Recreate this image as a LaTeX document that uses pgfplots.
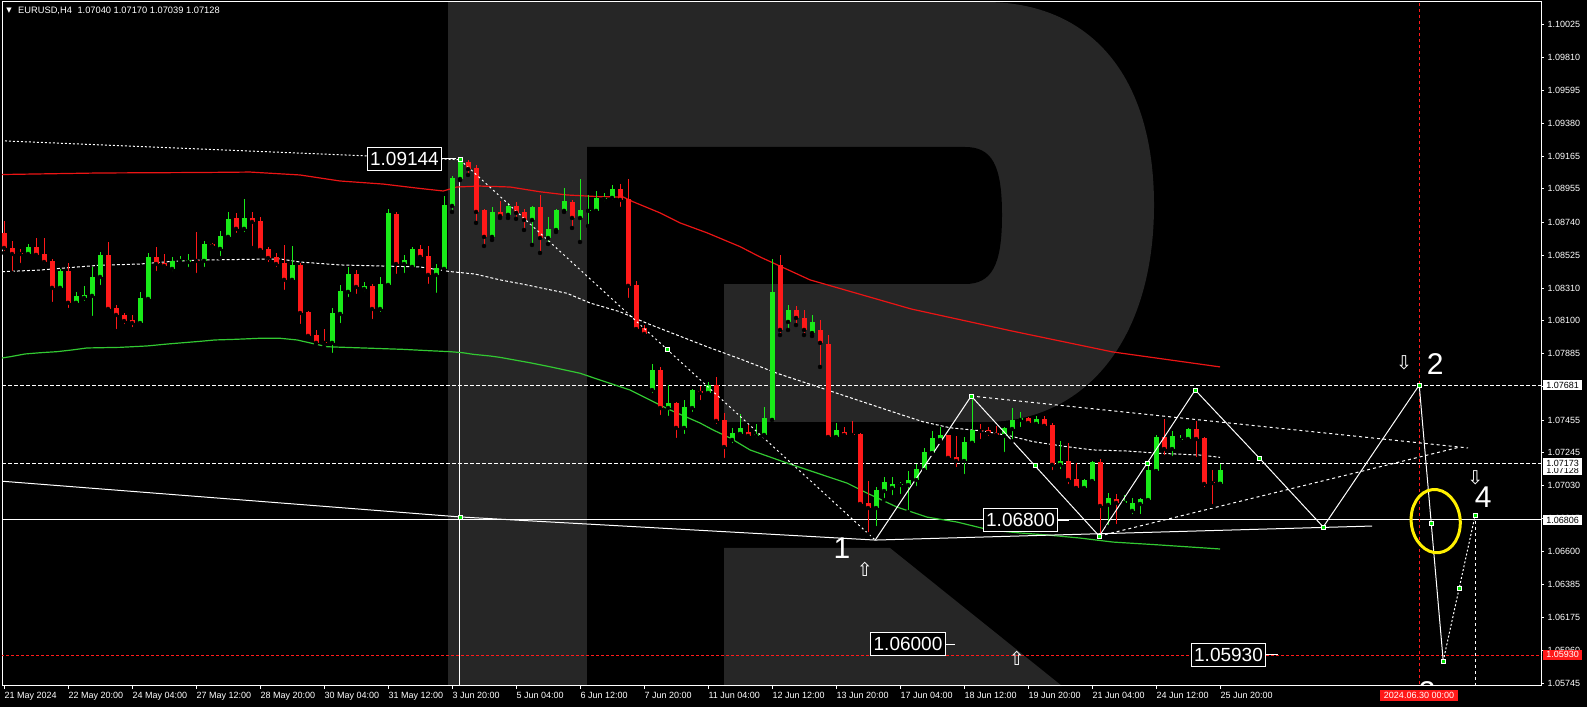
\documentclass[border=0pt]{standalone}
\usepackage{pgfplots}
\pgfplotsset{compat=1.18}
\usepackage{pgfplotstable}
\usepackage{fontspec}
\setmainfont{Liberation Sans}
\newfontfamily\sym{DejaVu Sans}

\definecolor{bull}{RGB}{25,235,25}
\definecolor{bear}{RGB}{255,25,25}
\definecolor{maRed}{RGB}{235,20,20}
\definecolor{maGreen}{RGB}{50,200,50}
\definecolor{wmark}{RGB}{38,38,38}
\definecolor{dot}{RGB}{0,230,0}
\definecolor{ylw}{RGB}{255,240,0}

% EURUSD H4 candles: bar index, open, high, low, close
\pgfplotstableread{
i o h l c
0 1.08669 1.08747 1.08539 1.08571
1 1.08571 1.08617 1.08409 1.08532
2 1.08539 1.08564 1.08461 1.08532
3 1.08532 1.08597 1.08519 1.08577
4 1.08577 1.08636 1.08519 1.08526
5 1.08532 1.08636 1.08454 1.08480
6 1.08487 1.08500 1.08208 1.08312
7 1.08312 1.08435 1.08305 1.08422
8 1.08422 1.08474 1.08169 1.08215
9 1.08215 1.08286 1.08208 1.08260
10 1.08247 1.08325 1.08215 1.08267
11 1.08260 1.08448 1.08117 1.08383
12 1.08383 1.08545 1.08318 1.08526
13 1.08526 1.08610 1.08165 1.08175
14 1.08182 1.08201 1.08032 1.08136
15 1.08136 1.08149 1.08065 1.08097
16 1.08104 1.08136 1.08045 1.08084
17 1.08084 1.08286 1.08058 1.08247
18 1.08240 1.08539 1.08227 1.08513
19 1.08513 1.08577 1.08409 1.08467
20 1.08474 1.08532 1.08428 1.08454
21 1.08435 1.08513 1.08409 1.08487
22 1.08487 1.08519 1.08467 1.08493
23 1.08480 1.08532 1.08435 1.08493
24 1.08493 1.08675 1.08396 1.08487
25 1.08487 1.08617 1.08435 1.08597
26 1.08597 1.08604 1.08558 1.08584
27 1.08565 1.08682 1.08506 1.08649
28 1.08643 1.08805 1.08636 1.08760
29 1.08766 1.08799 1.08656 1.08695
30 1.08695 1.08889 1.08662 1.08766
31 1.08766 1.08805 1.08571 1.08740
32 1.08747 1.08773 1.08545 1.08558
33 1.08565 1.08577 1.08467 1.08506
34 1.08513 1.08539 1.08435 1.08467
35 1.08474 1.08591 1.08286 1.08364
36 1.08364 1.08584 1.08351 1.08461
37 1.08461 1.08474 1.08065 1.08149
38 1.08156 1.08162 1.07993 1.08000
39 1.08006 1.08039 1.07948 1.07955
40 1.07961 1.08045 1.07929 1.07955
41 1.07955 1.08182 1.07877 1.08149
42 1.08143 1.08331 1.08071 1.08292
43 1.08286 1.08448 1.08240 1.08402
44 1.08402 1.08428 1.08260 1.08318
45 1.08305 1.08351 1.08279 1.08325
46 1.08325 1.08338 1.08097 1.08175
47 1.08175 1.08383 1.08143 1.08338
48 1.08331 1.08825 1.08325 1.08799
49 1.08792 1.08805 1.08390 1.08467
50 1.08467 1.08526 1.08396 1.08493
51 1.08448 1.08577 1.08435 1.08565
52 1.08565 1.08591 1.08487 1.08513
53 1.08519 1.08584 1.08325 1.08396
54 1.08396 1.08467 1.08267 1.08441
55 1.08435 1.08909 1.08428 1.08850
56 1.08844 1.09038 1.08805 1.09025
57 1.09019 1.09144 1.09012 1.09129
58 1.09129 1.09142 1.09045 1.09084
59 1.09090 1.09110 1.08734 1.08805
60 1.08818 1.08825 1.08584 1.08643
61 1.08643 1.08838 1.08623 1.08805
62 1.08805 1.08876 1.08766 1.08779
63 1.08786 1.08863 1.08766 1.08844
64 1.08844 1.08870 1.08760 1.08799
65 1.08805 1.08825 1.08688 1.08753
66 1.08753 1.08844 1.08591 1.08838
67 1.08838 1.08915 1.08539 1.08636
68 1.08636 1.08773 1.08597 1.08695
69 1.08688 1.08825 1.08675 1.08818
70 1.08812 1.08960 1.08805 1.08876
71 1.08870 1.08883 1.08701 1.08766
72 1.08766 1.09019 1.08610 1.08818
73 1.08812 1.08915 1.08714 1.08818
74 1.08812 1.08941 1.08805 1.08896
75 1.08889 1.08928 1.08863 1.08896
76 1.08896 1.08980 1.08870 1.08954
77 1.08954 1.08986 1.08825 1.08883
78 1.08889 1.09019 1.08234 1.08325
79 1.08331 1.08357 1.08026 1.08045
80 1.08052 1.08071 1.07987 1.08013
81 1.07649 1.07818 1.07617 1.07779
82 1.07779 1.07798 1.07474 1.07532
83 1.07532 1.07682 1.07468 1.07565
84 1.07565 1.07571 1.07325 1.07403
85 1.07403 1.07584 1.07351 1.07539
86 1.07532 1.07656 1.07494 1.07649
87 1.07643 1.07675 1.07571 1.07630
88 1.07630 1.07701 1.07617 1.07682
89 1.07682 1.07734 1.07416 1.07448
90 1.07455 1.07500 1.07195 1.07279
91 1.07325 1.07403 1.07292 1.07370
92 1.07364 1.07494 1.07357 1.07403
93 1.07377 1.07422 1.07338 1.07351
94 1.07351 1.07429 1.07325 1.07364
95 1.07357 1.07539 1.07351 1.07468
96 1.07455 1.08500 1.07429 1.08286
97 1.08461 1.08526 1.08006 1.08039
98 1.08091 1.08201 1.08039 1.08169
99 1.08169 1.08195 1.08071 1.08117
100 1.08117 1.08169 1.08006 1.08039
101 1.08019 1.08136 1.08000 1.08091
102 1.08039 1.08104 1.07799 1.07955
103 1.07948 1.08006 1.07325 1.07344
104 1.07344 1.07435 1.07338 1.07390
105 1.07377 1.07409 1.07344 1.07357
106 1.07364 1.07448 1.07351 1.07357
107 1.07364 1.07370 1.06903 1.06909
108 1.06916 1.07058 1.06714 1.06883
109 1.06883 1.07019 1.06753 1.07000
110 1.06993 1.07084 1.06935 1.07052
111 1.07013 1.07084 1.06954 1.07039
112 1.07032 1.07052 1.06961 1.07039
113 1.07032 1.07123 1.06857 1.07065
114 1.07065 1.07169 1.07013 1.07136
115 1.07130 1.07273 1.07104 1.07247
116 1.07240 1.07383 1.07234 1.07338
117 1.07325 1.07409 1.07312 1.07357
118 1.07357 1.07360 1.07195 1.07208
119 1.07214 1.07351 1.07136 1.07188
120 1.07188 1.07344 1.07091 1.07312
121 1.07306 1.07610 1.07299 1.07390
122 1.07390 1.07429 1.07318 1.07383
123 1.07390 1.07409 1.07338 1.07370
124 1.07370 1.07416 1.07344 1.07357
125 1.07351 1.07409 1.07234 1.07403
126 1.07396 1.07532 1.07318 1.07455
127 1.07455 1.07506 1.07396 1.07468
128 1.07468 1.07474 1.07416 1.07435
129 1.07429 1.07481 1.07409 1.07461
130 1.07461 1.07481 1.07409 1.07416
131 1.07422 1.07435 1.07117 1.07163
132 1.07163 1.07318 1.07123 1.07188
133 1.07188 1.07305 1.07026 1.07065
134 1.07071 1.07175 1.07010 1.07013
135 1.07013 1.07071 1.07006 1.07065
136 1.07058 1.07188 1.07052 1.07182
137 1.07182 1.07201 1.06701 1.06896
138 1.06903 1.06980 1.06760 1.06948
139 1.06941 1.06974 1.06766 1.06916
140 1.06916 1.06967 1.06896 1.06929
141 1.06864 1.06948 1.06831 1.06916
142 1.06909 1.06945 1.06831 1.06941
143 1.06935 1.07182 1.06930 1.07130
144 1.07123 1.07357 1.07120 1.07344
145 1.07344 1.07461 1.07214 1.07266
146 1.07266 1.07383 1.07208 1.07351
147 1.07325 1.07357 1.07299 1.07331
148 1.07331 1.07403 1.07312 1.07396
149 1.07396 1.07448 1.07201 1.07331
150 1.07338 1.07344 1.07006 1.07039
151 1.07052 1.07130 1.06896 1.07045
152 1.07040 1.07170 1.07039 1.07128
}\candles

\tikzset{
  zz/.style={only marks, mark=square*, mark size=2pt, mark options={fill=dot, draw=white, line width=0.6pt}},
  lbl/.style={draw=white, fill=black, text=white, line width=1pt, font=\fontsize{19}{19}\selectfont, inner xsep=3pt, inner ysep=5pt},
  rb/.style={anchor=west, xshift=2pt, fill=white, text=black, font=\fontsize{9}{10}\selectfont, inner xsep=3.2pt, inner ysep=1.6pt, text height=6.6pt, text depth=0.3pt},
  big/.style={text=white, font=\fontsize{30}{30}\selectfont, inner sep=0pt},
  arr/.style={text=white, font=\sym\fontsize{19}{19}\selectfont, inner sep=0pt},
}

\begin{document}
\begin{tikzpicture}[x=1pt,y=1pt]
\fill[black] (0,0) rectangle (1587,707);
\useasboundingbox (0,0) rectangle (1587,707);

% watermark letter (image pixel coordinates, y downwards)
\begin{scope}[shift={(0,707)}, yscale=-1]
  \fill[wmark] (448,2) rectangle (587,686);
  \fill[wmark] (587,2) -- (985,2) .. controls (1090,2) and (1154,75) .. (1154,205)
     .. controls (1154,340) and (1085,422) .. (985,422) -- (724,422) -- (724,284) -- (587,284) -- cycle;
  \fill[black] (587,147) -- (965,147) .. controls (992,147) and (1002,165) .. (1002,215)
     .. controls (1002,265) and (992,284) .. (965,284) -- (587,284) -- cycle;
  \fill[wmark] (724,548) -- (890,548) -- (1062,686) -- (724,686) -- cycle;
\end{scope}

\begin{axis}[
  at={(2pt,21pt)}, anchor=south west,
  scale only axis, width=1539pt, height=684pt,
  xmin=-0.25, xmax=192.125, ymin=1.057276, ymax=1.10168,
  axis line style={white, line width=1pt},
  tick style={white, line width=0.8pt},
  tick align=outside, major tick length=3pt,
  xtick pos=bottom, ytick pos=right,
  xticklabel pos=bottom, yticklabel pos=right,
  xtick={0,8,...,152},
  xticklabels={21 May 2024,22 May 20:00,24 May 04:00,27 May 12:00,28 May 20:00,30 May 04:00,31 May 12:00,3 Jun 20:00,5 Jun 04:00,6 Jun 12:00,7 Jun 20:00,11 Jun 04:00,12 Jun 12:00,13 Jun 20:00,17 Jun 04:00,18 Jun 12:00,19 Jun 20:00,21 Jun 04:00,24 Jun 12:00,25 Jun 20:00},
  ytick={1.10025,1.09810,1.09595,1.09380,1.09165,1.08955,1.08740,1.08525,1.08310,1.08100,1.07885,1.07670,1.07455,1.07245,1.07030,1.06815,1.06600,1.06385,1.06175,1.05960,1.05745},
  yticklabels={1.10025,1.09810,1.09595,1.09380,1.09165,1.08955,1.08740,1.08525,1.08310,1.08100,1.07885,1.07670,1.07455,1.07245,1.07030,1.06815,1.06600,1.06385,1.06175,1.05960,1.05745},
  ticklabel style={text=white, font=\fontsize{9}{10}\selectfont},
  xticklabel style={anchor=north west, xshift=-3pt},
  yticklabel style={anchor=west},
  clip=true,
]

% levels
\addplot[white, dash pattern=on 4pt off 2pt] coordinates {(-1,1.07681) (193,1.07681)};
\addplot[white, dash pattern=on 4pt off 2pt] coordinates {(-1,1.07173) (193,1.07173)};
\addplot[white, line width=1pt] coordinates {(-1,1.06806) (193,1.06806)};
\addplot[bear, dash pattern=on 3pt off 2pt] coordinates {(-1,1.05930) (193,1.05930)};
\addplot[bear, dash pattern=on 3pt off 3pt] coordinates {(176.9,1.05) (176.9,1.11)};
\addplot[white, line width=1pt] coordinates {(56.9,1.09144) (56.9,1.05)};

% moving averages
\addplot[maRed, line width=1.2pt] coordinates {(-0.25,1.09048) (12,1.09058) (24.5,1.09061) (30.75,1.09064) (37,1.09045) (42,1.09006) (47.4,1.08986) (51.6,1.08960) (54.9,1.08941) (56.6,1.08967) (59.5,1.08973) (63.25,1.08967) (67,1.08936) (70.4,1.08915) (74.5,1.08904) (77.4,1.08902) (78.6,1.08872) (82,1.08799) (84.5,1.08734) (87.9,1.08669) (92,1.08580) (94.5,1.08513) (100.75,1.08364) (113.4,1.08175) (126,1.08032) (138.6,1.07896) (152,1.07799)};
\addplot[maGreen, line width=1.2pt] coordinates {(-0.25,1.07857) (0.75,1.07865) (2.625,1.07883) (4.5,1.07891) (6.625,1.07898) (8.5,1.07909) (10.375,1.07922) (14.5,1.07926) (17.875,1.07935) (20.5,1.07948) (22.375,1.07956) (24.5,1.07965) (26.375,1.07974) (28.875,1.07978) (32,1.07985) (34.5,1.07985) (36.625,1.07974) (40.375,1.07930) (42.625,1.07926) (46,1.07920) (49.875,1.07913) (53.25,1.07904) (55.75,1.07898) (57.375,1.07891) (58.625,1.07881) (60.75,1.07870) (62,1.07861) (65.75,1.07826) (68.25,1.07800) (72,1.07758) (74.5,1.07714) (78.25,1.07649) (80.75,1.07584) (83.25,1.07520) (87,1.07435) (88.625,1.07390) (90.75,1.07338) (93.25,1.07260) (97.875,1.07175) (101.625,1.07110) (105.375,1.07045) (107.875,1.06980) (111.625,1.06889) (115.375,1.06824) (119.125,1.06792) (123.25,1.06740) (127,1.06721) (130.375,1.06708) (134.5,1.06688) (138.625,1.06662) (144.5,1.06643) (152,1.06617)};
\addplot[white, line width=1pt, dash pattern=on 3pt off 2pt] coordinates {(-0.25,1.08417) (4.5,1.08428) (8.25,1.08444) (12,1.08459) (17,1.08467) (20.75,1.08483) (24.5,1.08493) (34.5,1.08500) (37,1.08480) (42,1.08461) (52,1.08448) (55.75,1.08418) (58.875,1.08402) (62,1.08364) (65.375,1.08331) (67.375,1.08309) (70.375,1.08277) (73.25,1.08214) (77,1.08157) (80.375,1.08082) (84.125,1.08006) (87.875,1.07930) (92.375,1.07844) (96.625,1.07758) (100.375,1.07693) (104.125,1.07628) (107.875,1.07563) (111.625,1.07498) (114.875,1.07443) (118.25,1.07404) (122.375,1.07383) (125.75,1.07351) (128.625,1.07314) (132.875,1.07281) (136.125,1.07260) (140.375,1.07253) (144.5,1.07238) (149.5,1.07227) (152,1.07212)};

% candles: wicks and bodies
\addplot[only marks, mark=none, restrict expr to domain={\thisrow{c}-\thisrow{o}}{0:1},
  error bars/.cd, y dir=plus, y explicit, error mark=none, error bar style={draw=bull, line width=1pt}]
  table[x=i, y=l, y error plus expr={\thisrow{h}-\thisrow{l}}] {\candles};
\addplot[only marks, mark=none, restrict expr to domain={\thisrow{c}-\thisrow{o}}{-1:-0.000001},
  error bars/.cd, y dir=plus, y explicit, error mark=none, error bar style={draw=bear, line width=1pt}]
  table[x=i, y=l, y error plus expr={\thisrow{h}-\thisrow{l}}] {\candles};
\addplot[only marks, mark=none, restrict expr to domain={\thisrow{c}-\thisrow{o}}{0:1},
  error bars/.cd, y dir=plus, y explicit, error mark=none, error bar style={draw=bull, line width=5pt}]
  table[x=i, y=o, y error plus expr={max(\thisrow{c}-\thisrow{o},0.00007)}] {\candles};
\addplot[only marks, mark=none, restrict expr to domain={\thisrow{c}-\thisrow{o}}{-1:-0.000001},
  error bars/.cd, y dir=plus, y explicit, error mark=none, error bar style={draw=bear, line width=5pt}]
  table[x=i, y=c, y error plus expr={max(\thisrow{o}-\thisrow{c},0.00007)}] {\candles};

% trend lines and wave drawing
\addplot[white, line width=1pt, dash pattern=on 2pt off 2pt] coordinates {(0.125,1.09266) (57,1.09144)};
\addplot[white, line width=1pt] coordinates {(-0.5,1.07058) (57,1.06825) (108.9,1.06675) (171,1.06766)};
\addplot[white, line width=1pt, dash pattern=on 2pt off 3pt] coordinates {(57,1.09144) (108.9,1.06675)};
\addplot[white, line width=1pt, dash pattern=on 3pt off 3pt] coordinates {(120.9,1.07610) (183,1.07273)};
\addplot[white, line width=1pt, dash pattern=on 3pt off 3pt] coordinates {(136.9,1.06701) (182,1.07279)};
\addplot[white, line width=1pt] coordinates {(108.9,1.06675) (120.9,1.07610) (136.9,1.06701) (148.9,1.07649) (156.9,1.07208) (164.9,1.06760) (176.9,1.07681) (178.4,1.06786) (179.9,1.05890)};
\addplot[white, line width=1pt, dash pattern=on 2pt off 2pt] coordinates {(179.9,1.05890) (181.9,1.06364) (183.9,1.06838)};
\addplot[white, line width=1pt, dash pattern=on 3pt off 3pt] coordinates {(183.9,1.06838) (183.9,1.05)};
\addplot[zz] coordinates {(57,1.09144) (57,1.06825) (82.9,1.07915) (120.9,1.07610) (128.9,1.07163) (136.9,1.06701) (142.9,1.07176) (148.9,1.07649) (156.9,1.07208) (164.9,1.06760) (176.9,1.07681) (178.4,1.06786) (179.9,1.05890) (181.9,1.06364) (183.9,1.06838)};

\draw[ylw, line width=3pt, rotate around={6:(axis cs:178.96,1.06798)}] (axis cs:178.96,1.06798) ellipse [x radius=24.5pt, y radius=31.7pt];

\node[lbl] (L1) at (axis cs:50.06,1.09149) {1.09144};
\draw[white, line width=1pt] (L1.east) -- (axis cs:56.5,1.09149);
\node[lbl] (L2) at (axis cs:127.06,1.06804) {1.06800};
\draw[white, line width=1pt] (L2.east) -- ++(11pt,0pt);
\node[lbl] (L3) at (axis cs:113,1.06000) {1.06000};
\draw[white, line width=1pt] (L3.east) -- ++(9pt,0pt);
\node[lbl] (L4) at (axis cs:153.06,1.05929) {1.05930};
\draw[white, line width=1pt] (L4.east) -- ++(12pt,0pt);

\node[big] at (axis cs:104.75,1.06624) {1};
\node[big] at (axis cs:178.9,1.07818) {2};
\node[big] at (axis cs:177.9,1.05690) {3};
\node[big] at (axis cs:184.9,1.06955) {4};
\node[arr] at (axis cs:175,1.07825) {⇩};
\node[arr] at (axis cs:183.9,1.07078) {⇩};
\node[arr] at (axis cs:107.6,1.06487) {⇧};
\node[arr] at (axis cs:126.6,1.05909) {⇧};

\coordinate (c1) at (axis cs:192.125,1.07681);
\coordinate (c2) at (axis cs:192.125,1.07173);
\coordinate (c3) at (axis cs:192.125,1.07128);
\coordinate (c4) at (axis cs:192.125,1.06806);
\coordinate (c5) at (axis cs:192.125,1.05930);
\end{axis}

% price boxes on the scale
\node[rb] at (c3) {1.07128};
\node[rb] at (c2) {1.07173};
\node[rb] at (c1) {1.07681};
\node[rb] at (c4) {1.06806};
\node[rb, fill=bear, text=white] at (c5) {1.05930};

\node[fill=bear, text=white, font=\fontsize{9}{10}\selectfont, inner xsep=3.5pt, inner ysep=1.6pt, text height=6.6pt, text depth=0.3pt] at (1419,11.5) {2024.06.30 00:00};

\node[anchor=west, text=white, font=\fontsize{9.3}{10}\selectfont, inner sep=0pt] at (18,696.3) {EURUSD,H4\hspace{0.6em}1.07040 1.07170 1.07039 1.07128};
\node[text=white, font=\sym\fontsize{7}{7}\selectfont, inner sep=0pt] at (9,696.5) {▼};
\end{tikzpicture}
\end{document}
